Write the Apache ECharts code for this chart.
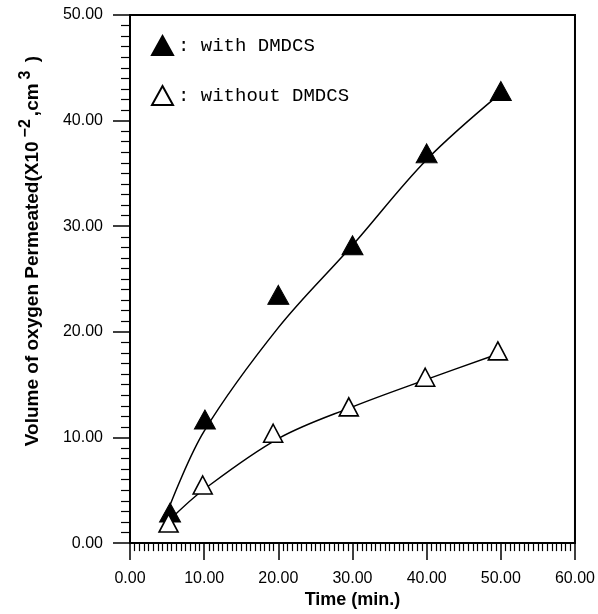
<!DOCTYPE html>
<html>
<head>
<meta charset="utf-8">
<title>Volume of oxygen permeated</title>
<script src="https://cdn.jsdelivr.net/npm/echarts@6/dist/echarts.min.js"></script>
<style>
  html, body { margin: 0; padding: 0; background: #fff; }
  #chart { width: 598px; height: 614px; }
</style>
</head>
<body>
<div id="chart"></div>
<script>
// measured points (time in min., volume x10^-2 cm3)
var withPoints = [[5.4, 2.9], [10.1, 11.7], [20.0, 23.5], [30.0, 28.2], [40.0, 36.9], [50.0, 42.8]];
var withoutPoints = [[5.2, 1.9], [9.8, 5.5], [19.3, 10.4], [29.5, 12.9], [39.8, 15.7], [49.6, 18.2]];
// fitted curves
var withCurve = [[5.4, 3.6], [10, 10.6], [20, 20.4], [30, 28.2], [40, 36.3], [50, 42.6]];
var withoutCurve = [[5.5, 2.3], [10, 5.1], [20, 9.9], [30, 12.9], [40, 15.5], [49.6, 17.9]];
var seriesNames = ['with DMDCS', 'without DMDCS'];
var xTicks = [0, 60, 10];   // min, max, interval
var yTicks = [0, 50, 10];

var chart = echarts.init(document.getElementById('chart'), null, { renderer: 'canvas' });

function fmt(v) {
    return v.toFixed(2);
}

function axisBase(range) {
    return {
        type: 'value',
        min: range[0],
        max: range[1],
        interval: range[2],
        axisLine: { show: true, lineStyle: { color: '#000', width: 2 } },
        axisTick: { show: true, length: 17, lineStyle: { color: '#000', width: 1.5 } },
        minorTick: { show: true, length: 9, lineStyle: { color: '#000', width: 1.2 } },
        splitLine: { show: false },
        axisLabel: {
            formatter: fmt,
            color: '#000',
            fontFamily: 'Liberation Sans, Arial, sans-serif',
            fontSize: 16
        }
    };
}

function getOption() {
    var x = axisBase(xTicks);
    x.minorTick.splitNumber = 16;
    x.minorTick.length = 8;
    x.axisLabel.margin = 27;
    x.name = 'Time (min.)';
    x.nameLocation = 'middle';
    x.nameGap = 45;
    x.nameTextStyle = {
        color: '#000',
        fontFamily: 'Liberation Sans, Arial, sans-serif',
        fontWeight: 'bold',
        fontSize: 18
    };

    var y = axisBase(yTicks);
    y.minorTick.splitNumber = 10;
    y.axisLabel.margin = 27;
    y.name = '{n|Volume of oxygen Permeated(X10}{s|\u22122}{n|,cm}{s|3}{n| )}';
    y.nameLocation = 'middle';
    y.nameGap = 82;
    y.nameTextStyle = {
        padding: [0, 0, 0, 56],
        rich: {
            n: {
                color: '#000',
                fontFamily: 'Liberation Sans, Arial, sans-serif',
                fontWeight: 'bold',
                fontSize: 19,
                lineHeight: 30,
                verticalAlign: 'middle'
            },
            s: {
                color: '#000',
                fontFamily: 'Liberation Sans, Arial, sans-serif',
                fontWeight: 'bold',
                fontSize: 16,
                lineHeight: 15,
                padding: [0, 3, 0, 4],
                verticalAlign: 'top'
            }
        }
    };

    return {
        backgroundColor: '#fff',
        animation: false,
        grid: {
            left: 130,
            right: 22,
            top: 15,
            bottom: 65,
            show: true,
            borderColor: '#000',
            borderWidth: 2
        },
        legend: {
            data: seriesNames,
            orient: 'vertical',
            left: 146,
            top: 30,
            itemWidth: 21,
            itemHeight: 19,
            itemGap: 29,
            icon: 'triangle',
            formatter: function(name) {
                return ': ' + name;
            },
            textStyle: {
                color: '#000',
                fontFamily: 'Liberation Mono, Courier New, monospace',
                fontSize: 19
            }
        },
        xAxis: x,
        yAxis: y,
        series: [{
                name: 'with DMDCS fit',
                type: 'line',
                data: withCurve,
                smooth: 0.35,
                showSymbol: false,
                silent: true,
                z: 1,
                lineStyle: { color: '#000', width: 1.5 }
            },
            {
                name: 'without DMDCS fit',
                type: 'line',
                data: withoutCurve,
                smooth: 0.35,
                showSymbol: false,
                silent: true,
                z: 1,
                lineStyle: { color: '#000', width: 1.5 }
            },
            {
                name: seriesNames[0],
                type: 'scatter',
                data: withPoints,
                symbol: 'triangle',
                symbolSize: [21, 19],
                z: 3,
                itemStyle: { color: '#000', borderColor: '#000', borderWidth: 1, opacity: 1 }
            },
            {
                name: seriesNames[1],
                type: 'scatter',
                data: withoutPoints,
                symbol: 'triangle',
                symbolSize: [19, 18],
                z: 3,
                itemStyle: { color: '#fff', borderColor: '#000', borderWidth: 1.6, opacity: 1 }
            }
        ]
    };
}

chart.setOption(getOption());
</script>
</body>
</html>
